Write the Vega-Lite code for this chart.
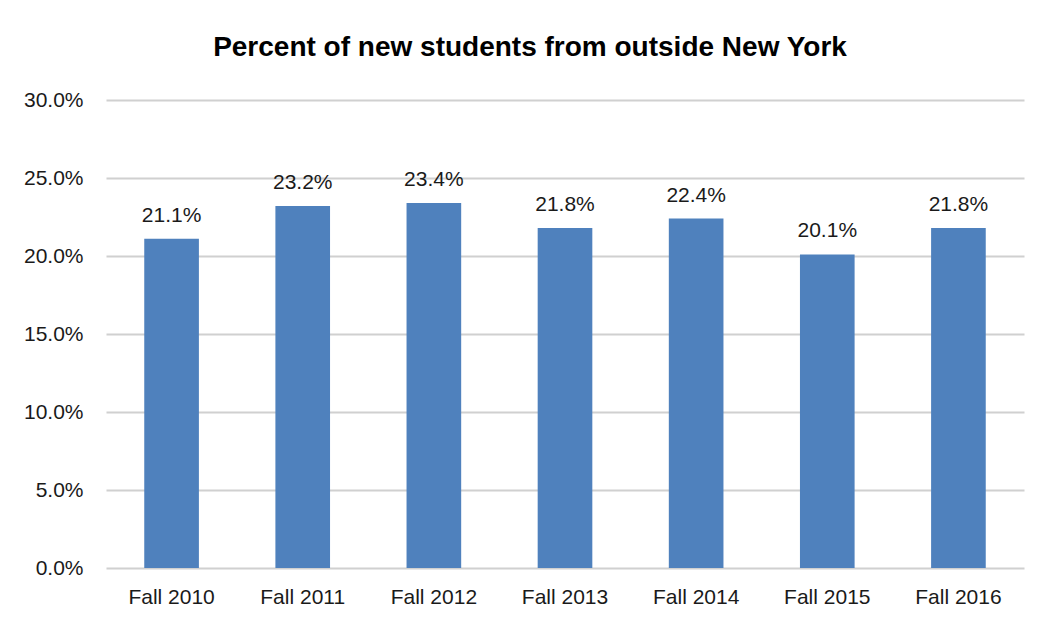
{
  "$schema": "https://vega.github.io/schema/vega-lite/v6.json",
  "width": 918,
  "height": 468,
  "autosize": {"type": "none"},
  "padding": {"left": 106, "top": 100, "right": 17, "bottom": 57},
  "background": "white",
  "title": {
    "text": "Percent of new students from outside New York",
    "font": "Liberation Sans",
    "fontSize": 28,
    "fontWeight": "bold",
    "color": "#000000",
    "anchor": "middle",
    "dx": -35,
    "offset": 27
  },
  "data": {
    "values": [
      {"term": "Fall 2010", "pct": 0.211},
      {"term": "Fall 2011", "pct": 0.232},
      {"term": "Fall 2012", "pct": 0.234},
      {"term": "Fall 2013", "pct": 0.218},
      {"term": "Fall 2014", "pct": 0.224},
      {"term": "Fall 2015", "pct": 0.201},
      {"term": "Fall 2016", "pct": 0.218}
    ]
  },
  "encoding": {
    "x": {
      "field": "term",
      "type": "nominal",
      "sort": null,
      "scale": {"paddingInner": 0.5833, "paddingOuter": 0.2917},
      "axis": {
        "title": null,
        "labelAngle": 0,
        "labelFont": "Liberation Sans",
        "labelFontSize": 21,
        "labelColor": "#1a1a1a",
        "labelPadding": 18,
        "ticks": false,
        "domain": false
      }
    },
    "y": {
      "field": "pct",
      "type": "quantitative",
      "scale": {"domain": [0, 0.3]},
      "axis": {
        "title": null,
        "values": [0, 0.05, 0.1, 0.15, 0.2, 0.25, 0.3],
        "format": ".1%",
        "labelFont": "Liberation Sans",
        "labelFontSize": 21,
        "labelColor": "#1a1a1a",
        "labelPadding": 23,
        "ticks": false,
        "domain": false,
        "gridColor": "#d0d0d0",
        "gridWidth": 2
      }
    }
  },
  "layer": [
    {"mark": {"type": "bar", "color": "#4f81bd"}},
    {
      "mark": {
        "type": "text",
        "baseline": "alphabetic",
        "dy": -17,
        "font": "Liberation Sans",
        "fontSize": 21,
        "color": "#1a1a1a"
      },
      "encoding": {
        "text": {"field": "pct", "type": "quantitative", "format": ".1%"}
      }
    }
  ],
  "config": {"view": {"stroke": null}}
}
